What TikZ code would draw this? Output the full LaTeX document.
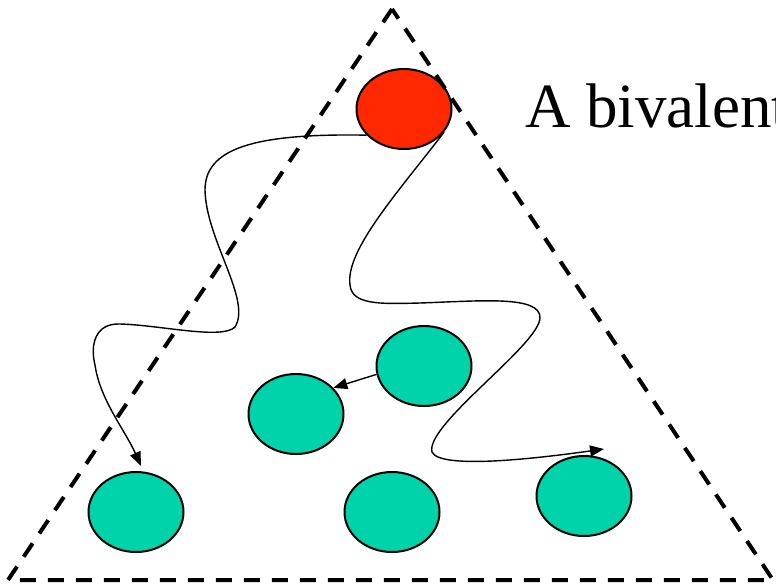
\documentclass[tikz,border=0pt]{standalone}
\usepackage{fontspec}
\setmainfont{Liberation Serif}
\usetikzlibrary{shapes.geometric,arrows.meta}
\definecolor{rossoconf}{RGB}{255,40,0}
\definecolor{verdeconf}{RGB}{0,210,170}
\begin{document}
\begin{tikzpicture}[
    x=1pt, y=-1pt,
    conf/.style={
        draw,
        line width=2pt,
        ellipse,
        minimum width=95pt,
        minimum height=80pt,
        inner sep=0pt
    },
    bordo/.style={
        draw,
        line width=4pt,
        dash pattern=on 16pt off 12pt
    },
    cammino/.style={
        line width=1.4pt,
        -{Triangle[length=14pt,width=11pt]}
    }
]
    \useasboundingbox (0,0) rectangle (776,587);
    \clip (0,0) rectangle (776,587);

    % Configurazioni
    \node[conf, fill=rossoconf] (bival) at (404,109) {};
    \node[conf, fill=verdeconf] (cfg_a) at (424,366) {};
    \node[conf, fill=verdeconf] (cfg_b) at (296,414) {};
    \node[conf, fill=verdeconf] (cfg_c) at (136,512) {};
    \node[conf, fill=verdeconf] (cfg_d) at (392,512) {};
    \node[conf, fill=verdeconf] (cfg_e) at (584,496) {};

    % Triangolo tratteggiato
    \coordinate (apice) at (392,9);
    \coordinate (base_sx) at (8,580);
    \coordinate (base_dx) at (773,580);
    \draw[bordo] (apice) -- (base_sx) -- (base_dx) -- cycle;

    % Testo a destra
    \node[anchor=base west, inner sep=0pt, font=\fontsize{63}{70}\selectfont] (etichetta) at (525,127) {A bivalent};

    % Cammini
    \draw[cammino] (bival.215) .. controls (250,133) and (205,150) .. (205,190)
        .. controls (206,240) and (252,300) .. (235,327)
        .. controls (222,340) and (160,325) .. (120,324)
        .. controls (95,323) and (90,345) .. (95,365)
        .. controls (100,400) and (125,430) .. ([shift={(5,-5)}]cfg_c.north);
    \draw[cammino] (bival.-30) .. controls (400,190) and (345,250) .. (350,285)
        .. controls (352,305) and (380,304) .. (420,303)
        .. controls (480,301) and (541,295) .. (540,318)
        .. controls (539,345) and (425,425) .. (432,452)
        .. controls (440,470) and (540,458) .. ([shift={(20,-6)}]cfg_e.north);
    \draw[cammino] (cfg_a.190) -- (cfg_b.35);

\end{tikzpicture}
\end{document}
